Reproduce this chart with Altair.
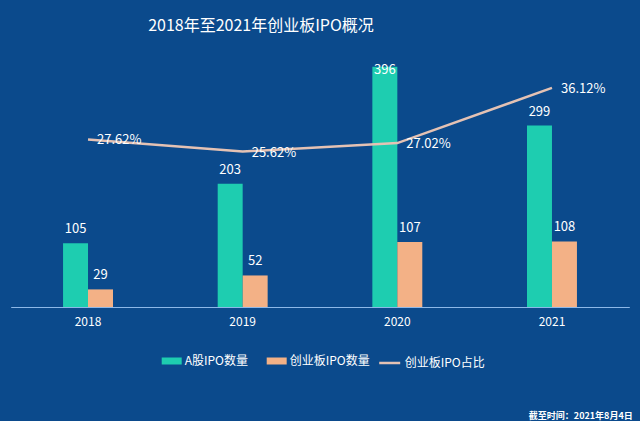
import altair as alt
import pandas as pd

# ChiNext vs. all A-share IPOs, 2018-2021
years = ["2018", "2019", "2020", "2021"]
a_share_ipo = [105, 203, 396, 299]
chinext_ipo = [29, 52, 107, 108]
chinext_share = [0.2762, 0.2562, 0.2702, 0.3612]

SERIES_A = "A股IPO数量"
SERIES_C = "创业板IPO数量"
SERIES_R = "创业板IPO占比"

BG = "#0B4A8C"
TEAL = "#1ECDB0"
PEACH = "#F3B186"
LINE = "#E4C2B4"
FONT = "Noto Sans CJK SC"

bars = pd.DataFrame({
    "year": years * 2,
    "series": [SERIES_A] * 4 + [SERIES_C] * 4,
    "value": a_share_ipo + chinext_ipo,
})
ratio = pd.DataFrame({"year": years, "share": chinext_share, "name": [SERIES_R] * 4})
note = pd.DataFrame({"t": ["截至时间：2021年8月4日"]})

W, H = 618.6, 273

x_enc = alt.X("year:N", title=None, sort=years,
              scale=alt.Scale(paddingInner=0.677, paddingOuter=0.3385),
              axis=alt.Axis(labelColor="white", labelFontSize=12, labelFont=FONT,
                            labelAngle=0, labelPadding=9, ticks=False,
                            domainColor="#8DB8E8", domainWidth=1, grid=False))
y_bar = alt.Y("value:Q", title=None, scale=alt.Scale(domain=[0, 450], nice=False),
              axis=None)
off = alt.XOffset("series:N", sort=[SERIES_A, SERIES_C], scale=alt.Scale(paddingInner=0, paddingOuter=0))

bar_layer = alt.Chart(bars).mark_bar().encode(
    x=x_enc,
    xOffset=off,
    y=y_bar,
    color=alt.Color("series:N", sort=[SERIES_A, SERIES_C],
                    scale=alt.Scale(domain=[SERIES_A, SERIES_C], range=[TEAL, PEACH]),
                    legend=alt.Legend(title=None, orient="none", direction="horizontal",
                                      legendX=151, legendY=317,
                                      symbolType="M-1,-0.35H1V0.35H-1Z", symbolSize=400,
                                      symbolStrokeWidth=0, symbolOpacity=1,
                                      labelColor="white", labelFontSize=12, labelFont=FONT,
                                      labelOffset=3, columnPadding=18, padding=0)),
)

bar_text = alt.Chart(bars).transform_calculate(
    ypos="min(datum.value, 368)"
).mark_text(color="white", fontSize=13, font=FONT, dy=-10, baseline="alphabetic").encode(
    x=alt.X("year:N", sort=years),
    xOffset=off,
    y=alt.Y("ypos:Q", scale=alt.Scale(domain=[0, 450], nice=False), axis=None),
    text=alt.Text("value:Q"),
)

y_line = alt.Y("share:Q", scale=alt.Scale(domain=[0, 0.45], nice=False), axis=None)

line_layer = alt.Chart(ratio).mark_line(strokeWidth=2.5).encode(
    x=alt.X("year:N", sort=years),
    y=y_line,
    color=alt.Color("name:N",
                    scale=alt.Scale(domain=[SERIES_R], range=[LINE]),
                    legend=alt.Legend(title=None, orient="none", direction="horizontal",
                                      legendX=367, legendY=317,
                                      symbolType="stroke", symbolSize=441,
                                      symbolStrokeWidth=2.5,
                                      labelColor="white", labelFontSize=12, labelFont=FONT,
                                      labelOffset=3, padding=0)),
)

line_text = alt.Chart(ratio).mark_text(
    color="white", fontSize=13, font=FONT, align="left", baseline="middle", dx=9, dy=1
).encode(
    x=alt.X("year:N", sort=years),
    y=y_line,
    text=alt.Text("share:Q", format=".2%"),
)

note_layer = alt.Chart(note).mark_text(
    color="white", fontSize=9, font=FONT, fontWeight="bold", align="right", baseline="middle"
).encode(x=alt.value(622), y=alt.value(382), text="t:N")

bars_part = alt.layer(bar_layer, bar_text)
line_part = alt.layer(line_layer, line_text)

chart = alt.layer(bars_part, line_part, note_layer).resolve_scale(
    y="independent", color="independent"
).resolve_legend(color="independent").properties(
    width=W, height=H,
    background=BG,
    padding={"left": 10.7, "top": 34, "right": 10.7, "bottom": 114},
    autosize=alt.AutoSizeParams(type="none"),
    title=alt.TitleParams("2018年至2021年创业板IPO概况", color="white", fontSize=16,
                          font=FONT, fontWeight="normal", anchor="middle", dx=-59,
                          offset=0),
).configure_view(stroke=None)

chart.save("out.html", embed_options={"renderer": "svg", "actions": False})
